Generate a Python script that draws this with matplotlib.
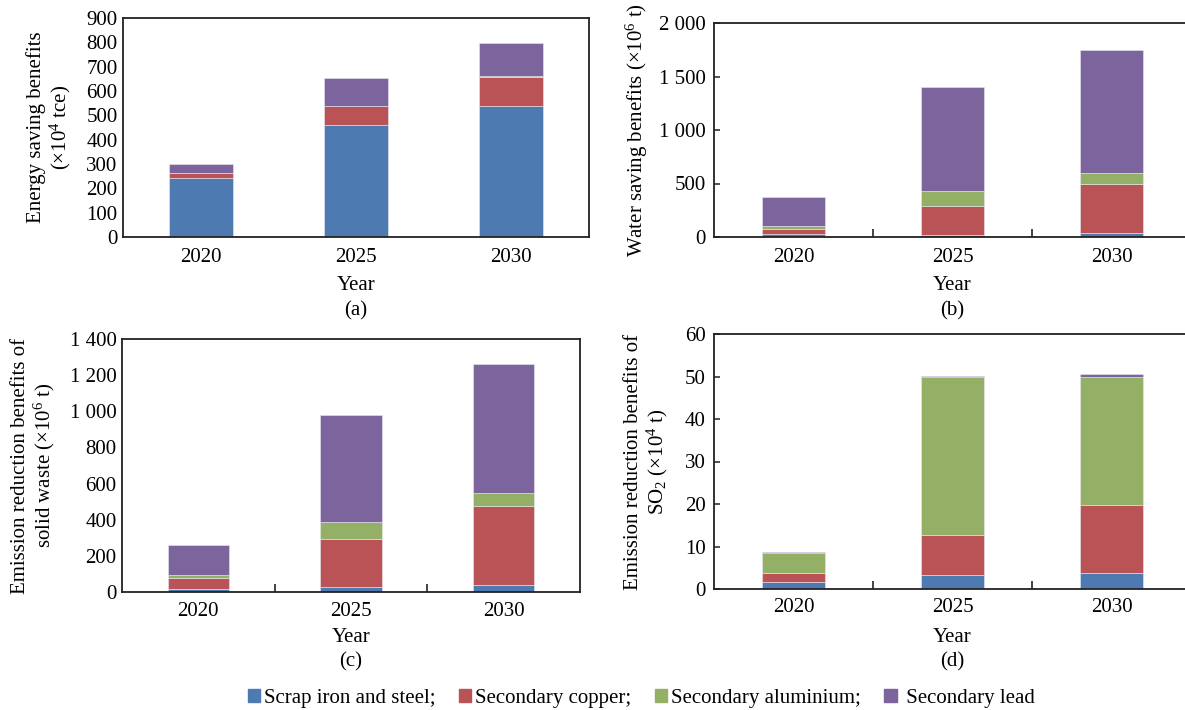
import matplotlib
matplotlib.use("Agg")
import matplotlib.pyplot as plt
import matplotlib.transforms as mtrans
import numpy as np

plt.rcParams['font.family'] = ['Liberation Serif', 'DejaVu Serif']
plt.rcParams['mathtext.fontset'] = 'custom'
plt.rcParams['mathtext.rm'] = 'Liberation Serif'
plt.rcParams['mathtext.it'] = 'Liberation Serif:italic'

years = ['2020', '2025', '2030']
series = ['Scrap iron and steel;', 'Secondary copper;', 'Secondary aluminium;', ' Secondary lead']
colors = ['#4d7bb1', '#b95355', '#94b066', '#7b659c']

# values per series (iron, copper, aluminium, lead), one entry per year
energy_iron = [244, 462, 539]
energy_copper = [17, 77, 120]
energy_alu = [1, 1, 1]
energy_lead = [36, 113, 137]

water_iron = [25, 22, 37]
water_copper = [53, 271, 456]
water_alu = [25, 138, 106]
water_lead = [271, 967, 1151]

solid_iron = [18, 29, 39]
solid_copper = [57, 263, 439]
solid_alu = [19, 94, 69]
solid_lead = [167, 591, 717]

so2_iron = [1.6, 3.3, 3.8]
so2_copper = [2.2, 9.3, 15.9]
so2_alu = [4.7, 37.4, 30.3]
so2_lead = [0.3, 0.2, 0.6]

FS = 15

panels = [
    dict(data=[energy_iron, energy_copper, energy_alu, energy_lead],
         ylim=900, yticks=[0, 100, 200, 300, 400, 500, 600, 700, 800, 900],
         ylabels=['0', '100', '200', '300', '400', '500', '600', '700', '800', '900'],
         ylabel='Energy saving benefits\n(×10$^{4}$ tce)', tag='(a)',
         pos=[123, 18, 589, 237], width=0.41, mid=False, right=True,
         ylx=50, tick_y=257, year_y=285, tag_y=311),
    dict(data=[water_iron, water_copper, water_alu, water_lead],
         ylim=2000, yticks=[0, 500, 1000, 1500, 2000],
         ylabels=['0', '500', '1 000', '1 500', '2 000'],
         ylabel='Water saving benefits (×10$^{6}$ t)', tag='(b)',
         pos=[714, 23, 1191, 237], width=0.395, mid=True, right=False,
         ylx=637, tick_y=257, year_y=285, tag_y=311),
    dict(data=[solid_iron, solid_copper, solid_alu, solid_lead],
         ylim=1400, yticks=[0, 200, 400, 600, 800, 1000, 1200, 1400],
         ylabels=['0', '200', '400', '600', '800', '1 000', '1 200', '1 400'],
         ylabel='Emission reduction benefits of\nsolid waste (×10$^{6}$ t)', tag='(c)',
         pos=[122, 339, 580, 592], width=0.40, mid=True, right=True,
         ylx=34, tick_y=611, year_y=638, tag_y=662),
    dict(data=[so2_iron, so2_copper, so2_alu, so2_lead],
         ylim=60, yticks=[0, 10, 20, 30, 40, 50, 60],
         ylabels=['0', '10', '20', '30', '40', '50', '60'],
         ylabel='Emission reduction benefits of\nSO$_{2}$ (×10$^{4}$ t)', tag='(d)',
         pos=[714, 334, 1191, 589], width=0.395, mid=True, right=False,
         ylx=647, tick_y=607, year_y=638, tag_y=662),
]

W, H = 1185, 710
fig = plt.figure(figsize=(W / 100, H / 100), dpi=100)
x = np.arange(len(years))

for p in panels:
    l, t, r, b = p['pos']
    ax = fig.add_axes([l / W, 1 - b / H, (r - l) / W, (b - t) / H])
    bottom = np.zeros(len(years))
    for vals, c in zip(p['data'], colors):
        ax.bar(x, vals, p['width'], bottom=bottom, color=c,
               edgecolor='#e8e8f0', linewidth=0.4)
        bottom += np.array(vals)
    ax.set_xlim(-0.5, 2.5)
    ax.set_ylim(0, p['ylim'])
    ax.set_yticks(p['yticks'])
    ax.set_yticklabels(p['ylabels'], fontsize=FS)
    ax.set_xticks(x)
    ax.set_xticklabels(years, fontsize=FS)
    ax.tick_params(axis='x', length=0)
    if p['right']:
        ax.tick_params(axis='y', length=0, pad=4)
    else:
        ax.tick_params(axis='y', direction='in', length=4, width=1.1, color='#222222', pad=6)
    ax.tick_params(axis='x', pad=(p['tick_y'] - b - 9) * 0.72)
    if p['mid']:
        ax.set_xticks([0.5, 1.5], minor=True)
        ax.tick_params(axis='x', which='minor', direction='in', length=6, width=1.2, color='#222222')
    ax.spines['right'].set_visible(p['right'])
    for s in ax.spines.values():
        s.set_linewidth(1.3)
        s.set_color('#222222')

    tr = mtrans.blended_transform_factory(ax.transData, fig.transFigure)
    ax.text(1, 1 - p['year_y'] / H, 'Year', transform=tr, ha='center', va='center', fontsize=FS)
    ax.text(1, 1 - p['tag_y'] / H, p['tag'], transform=tr, ha='center', va='center', fontsize=FS)
    ymid = 1 - (t + b) / 2 / H
    fig.text(p['ylx'] / W, ymid, p['ylabel'], rotation=90, ha='center', va='center',
             fontsize=FS, linespacing=1.1)

handles = [plt.Rectangle((0, 0), 1, 1, color=c) for c in colors]
fig.legend(handles, series, loc='center', bbox_to_anchor=(0.541, 1 - 698 / H), ncol=4,
           frameon=False, fontsize=FS, handlelength=0.6, handleheight=0.6,
           handletextpad=0.2, columnspacing=1.1)

fig.savefig('out.png', dpi=100)
